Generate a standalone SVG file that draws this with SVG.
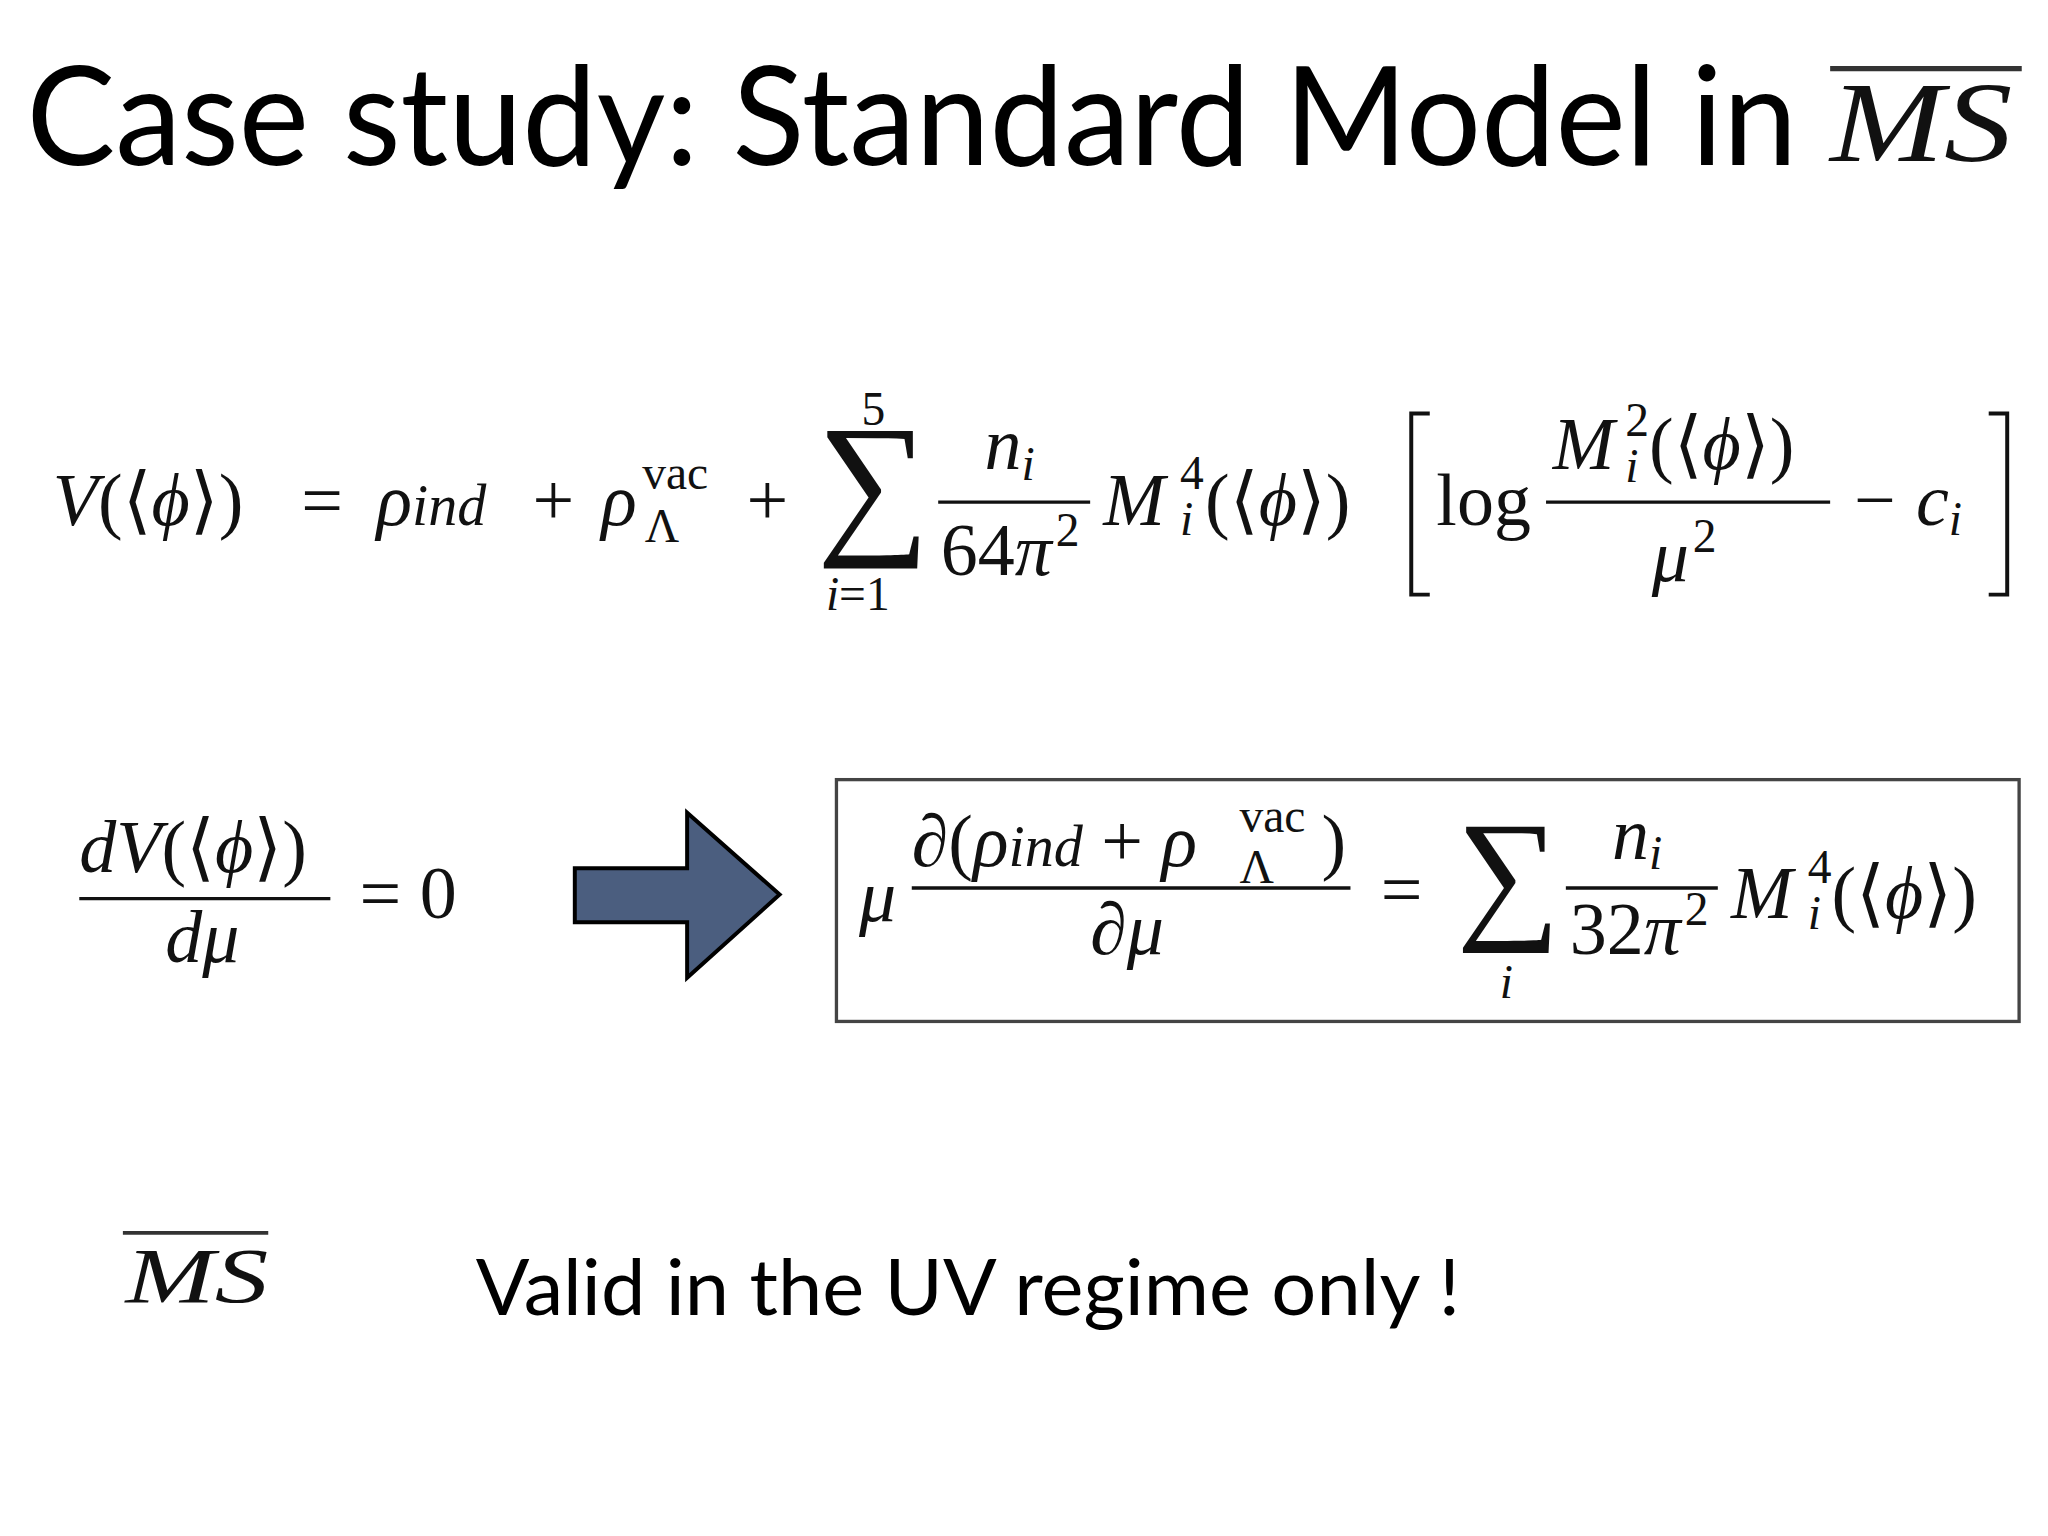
<svg xmlns="http://www.w3.org/2000/svg" width="2048" height="1536" viewBox="0 0 2048 1536">
<style>
.t{font-family:"Lato","Open Sans",sans-serif;fill:#000}
.m{font-family:"Liberation Serif","DejaVu Serif",serif;fill:#111;font-size:56px}
.i{font-style:italic}
.s{font-size:36px}
</style>
<rect width="2048" height="1536" fill="#fff"/>
<g transform="scale(1.3214)">
<g id="title">
<text class="t" x="20" y="125" font-size="104" textLength="1340" lengthAdjust="spacingAndGlyphs">Case study: Standard Model in</text>
<text class="m i" x="1385" y="122" style="font-size:86px" textLength="138" lengthAdjust="spacingAndGlyphs" fill="#333">MS</text>
<line x1="1385" y1="52" x2="1530" y2="52" stroke="#333" stroke-width="4"/>
</g>
<g id="eq1">
<text class="m" x="40" y="397"><tspan class="i">V</tspan>(⟨<tspan class="i">ϕ</tspan>⟩)</text>
<text class="m" x="228" y="397">=</text>
<text class="m i" x="285" y="397">ρ<tspan style="font-size:44px">ind</tspan></text>
<text class="m" x="403" y="397">+</text>
<text class="m i" x="455" y="397">ρ</text>
<text class="m s" x="486" y="370">vac</text>
<text class="m s" x="488" y="410">Λ</text>
<text class="m" x="565" y="397">+</text>
<text class="m" x="618" y="405" style="font-size:120px">∑</text>
<text class="m s" x="652" y="322">5</text>
<text class="m s i" x="625" y="462">i<tspan font-style="normal">=1</tspan></text>
<text class="m i" x="745" y="355">n<tspan class="s" dy="8">i</tspan></text>
<line x1="710" y1="380" x2="825" y2="380" stroke="#111" stroke-width="2.5"/>
<text class="m" x="712" y="435">64<tspan class="i">π</tspan><tspan class="s" dy="-22" dx="3">2</tspan></text>
<text class="m i" x="835" y="397">M</text>
<text class="m s" x="893" y="370">4</text>
<text class="m s i" x="893" y="405">i</text>
<text class="m" x="912" y="397">(⟨<tspan class="i">ϕ</tspan>⟩)</text>
<path d="M1082,313 H1068 V450 H1082 M1505,313 H1519 V450 H1505" fill="none" stroke="#111" stroke-width="3"/>
<text class="m" x="1087" y="397">log</text>
<text class="m i" x="1175" y="355">M</text>
<text class="m s" x="1230" y="330">2</text>
<text class="m s i" x="1230" y="365">i</text>
<text class="m" x="1248" y="355">(⟨<tspan class="i">ϕ</tspan>⟩)</text>
<line x1="1170" y1="380" x2="1385" y2="380" stroke="#111" stroke-width="2.5"/>
<text class="m i" x="1250" y="440">μ<tspan class="s" font-style="normal" dy="-22" dx="3">2</tspan></text>
<text class="m" x="1403" y="397">−</text>
<text class="m i" x="1450" y="397">c<tspan class="s" dy="8">i</tspan></text>
</g>
<g id="eq2">
<text class="m" x="60" y="660"><tspan class="i">dV</tspan>(⟨<tspan class="i">ϕ</tspan>⟩)</text>
<line x1="60" y1="680" x2="250" y2="680" stroke="#111" stroke-width="2.5"/>
<text class="m i" x="125" y="728">dμ</text>
<text class="m" x="272" y="695">= 0</text>
</g>
<g id="connectors">
<polygon points="435,657 520,657 520,615 590,677 520,740 520,698 435,698" fill="#4b5e7f" stroke="#000" stroke-width="3"/>
</g>
<g id="box">
<rect x="633" y="590" width="895" height="183" fill="#fff" stroke="#444" stroke-width="2.5"/>
<text class="m i" x="650" y="697">μ</text>
<text class="m" x="690" y="655">∂(<tspan class="i">ρ<tspan style="font-size:44px">ind</tspan></tspan> + <tspan class="i">ρ</tspan></text>
<text class="m s" x="938" y="630">vac</text>
<text class="m s" x="938" y="668">Λ</text>
<text class="m" x="1000" y="655">)</text>
<line x1="690" y1="672" x2="1022" y2="672" stroke="#111" stroke-width="2.5"/>
<text class="m" x="825" y="722">∂<tspan class="i">μ</tspan></text>
<text class="m" x="1045" y="692">=</text>
<text class="m" x="1102" y="698" style="font-size:110px">∑</text>
<text class="m s i" x="1135" y="755">i</text>
<text class="m i" x="1220" y="650">n<tspan class="s" dy="8">i</tspan></text>
<line x1="1185" y1="672" x2="1300" y2="672" stroke="#111" stroke-width="2.5"/>
<text class="m" x="1188" y="722">32<tspan class="i">π</tspan><tspan class="s" dy="-22" dx="3">2</tspan></text>
<text class="m i" x="1310" y="695">M</text>
<text class="m s" x="1368" y="668">4</text>
<text class="m s i" x="1368" y="703">i</text>
<text class="m" x="1386" y="695">(⟨<tspan class="i">ϕ</tspan>⟩)</text>
</g>
<g id="bottom">
<text class="m i" x="95" y="985" style="font-size:60px" textLength="108" lengthAdjust="spacingAndGlyphs" fill="#333">MS</text>
<line x1="93" y1="933" x2="203" y2="933" stroke="#333" stroke-width="3"/>
<text class="t" x="360" y="995" font-size="58" textLength="745" lengthAdjust="spacingAndGlyphs">Valid in the UV regime only !</text>
</g>
</g>
</svg>
